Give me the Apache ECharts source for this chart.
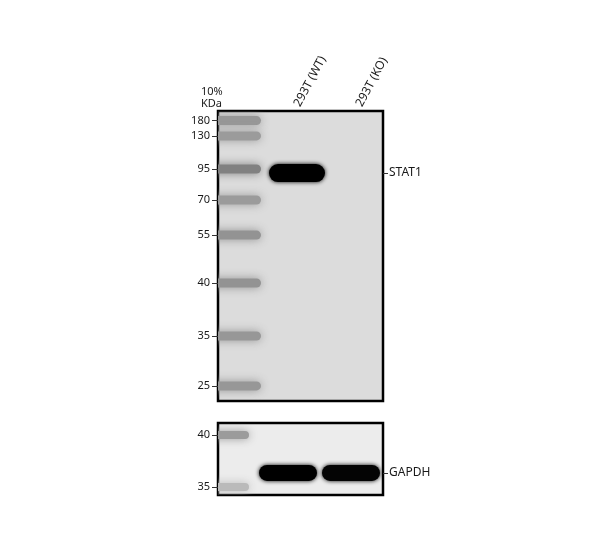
<!DOCTYPE html>
<html lang="en">
<head>
<meta charset="UTF-8" />
<title>STAT1 western blot</title>
<style>
    html, body { margin: 0; background: #fff; }
    #chart { width: 600px; height: 558px; }
</style>
<script src="https://cdn.jsdelivr.net/npm/echarts@6.0.0/dist/echarts.min.js"></script>
</head>
<body>
<div id="chart"></div>
<script>
    // lanes, left to right
    const lanes = ["Marker", "293T (WT)", "293T (KO)"];

    // upper membrane: marker sizes (kDa), how far each ran (% of gel height), band darkness 0..1
    const markerKDa = [180, 130, 95, 70, 55, 40, 35, 25];
    const markerPos = [3.3, 8.6, 20.0, 30.7, 42.8, 59.3, 77.6, 94.8];
    const markerDark = [0.32, 0.3, 0.42, 0.3, 0.34, 0.34, 0.32, 0.32];

    const stat1Pos = 21.4;
    const stat1Dark = [1.0, 0.0]; // WT, KO

    // lower membrane (loading control)
    const lowMarkerKDa = [40, 35];
    const lowMarkerPos = [16.7, 88.9];
    const lowMarkerDark = [0.3, 0.16];

    const gapdhPos = 69.4;
    const gapdhDark = [1.0, 0.98]; // WT, KO

    const font = "Noto Sans";
    const ink = "#1a1a1a";

    // a soft rounded band, darkness -> grey level
    function band(w, h, blur) {
        return function (params, api) {
            const dark = api.value(2);
            if (!(dark > 0)) return;
            const c = api.coord([api.value(0), api.value(1)]);
            const g = Math.round(222 * (1 - dark));
            const col = "rgb(" + g + "," + g + "," + g + ")";
            return {
                type: "rect",
                shape: { x: c[0] - w / 2, y: c[1] - h / 2, width: w, height: h, r: h / 2 },
                style: { fill: col, shadowBlur: blur, shadowColor: col },
            };
        };
    }

    function sideAxis(gridIndex, position, values, names, opts) {
        return {
            type: "value",
            gridIndex,
            position,
            inverse: true,
            min: 0,
            max: 100,
            splitLine: { show: false },
            axisLine: { show: false, onZero: false },
            axisTick: {
                show: true,
                customValues: values,
                length: opts.tick,
                lineStyle: { color: "#333", width: 1 },
            },
            axisLabel: {
                customValues: values,
                formatter: (v) => String(names[values.indexOf(v)]),
                margin: opts.margin,
                fontSize: opts.size,
                fontFamily: font,
                color: ink,
            },
        };
    }

    const chart = echarts.init(document.getElementById("chart"));
    const option = {
        animation: false,
        backgroundColor: "#fff",
        title: {
            text: "10%\nKDa",
            left: 201,
            top: 86,
            padding: 0,
            textStyle: { fontSize: 11, fontWeight: "normal", lineHeight: 12, color: ink, fontFamily: font },
        },
        grid: [
            { left: 218, top: 111, width: 165, height: 290, show: true, backgroundColor: "#dcdcdc", borderColor: "#000", borderWidth: 2.5 },
            { left: 218, top: 423, width: 165, height: 72, show: true, backgroundColor: "#ececec", borderColor: "#000", borderWidth: 2.5 },
        ],
        xAxis: [
            {
                type: "value",
                gridIndex: 0,
                position: "top",
                min: 0.726,
                max: 3.387,
                splitLine: { show: false },
                axisLine: { show: false, onZero: false },
                axisTick: { show: false },
                axisLabel: {
                    customValues: [2, 3],
                    formatter: (v) => lanes[v - 1],
                    rotate: -62,
                    verticalAlign: "middle",
                    margin: 5,
                    fontSize: 12,
                    fontFamily: font,
                    color: ink,
                },
            },
            { type: "value", gridIndex: 1, min: 0.889, max: 3.508, show: false },
        ],
        yAxis: [
            sideAxis(0, "left", markerPos, markerKDa, { tick: 6, margin: 8, size: 11 }),
            sideAxis(0, "right", [stat1Pos], ["STAT1"], { tick: 5, margin: 6, size: 12 }),
            sideAxis(1, "left", lowMarkerPos, lowMarkerKDa, { tick: 6, margin: 8, size: 11 }),
            sideAxis(1, "right", [gapdhPos], ["GAPDH"], { tick: 5, margin: 6, size: 12 }),
        ],
        series: [
            {
                name: "ladder",
                type: "custom",
                xAxisIndex: 0,
                yAxisIndex: 0,
                clip: true,
                renderItem: band(52, 9, 10),
                encode: { x: 0, y: 1 },
                data: markerPos.map((p, i) => [1, p, markerDark[i]]),
            },
            {
                name: "STAT1",
                type: "custom",
                xAxisIndex: 0,
                yAxisIndex: 0,
                clip: true,
                renderItem: band(56, 18, 4),
                encode: { x: 0, y: 1 },
                data: stat1Dark.map((d, i) => [i + 2, stat1Pos, d]),
            },
            {
                name: "ladder (lower)",
                type: "custom",
                xAxisIndex: 1,
                yAxisIndex: 2,
                clip: true,
                renderItem: band(48, 8, 9),
                encode: { x: 0, y: 1 },
                data: lowMarkerPos.map((p, i) => [1, p, lowMarkerDark[i]]),
            },
            {
                name: "GAPDH",
                type: "custom",
                xAxisIndex: 1,
                yAxisIndex: 2,
                clip: true,
                renderItem: band(58, 16, 4),
                encode: { x: 0, y: 1 },
                data: gapdhDark.map((d, i) => [i + 2, gapdhPos, d]),
            },
        ],
    };
    chart.setOption(option);
</script>
</body>
</html>
